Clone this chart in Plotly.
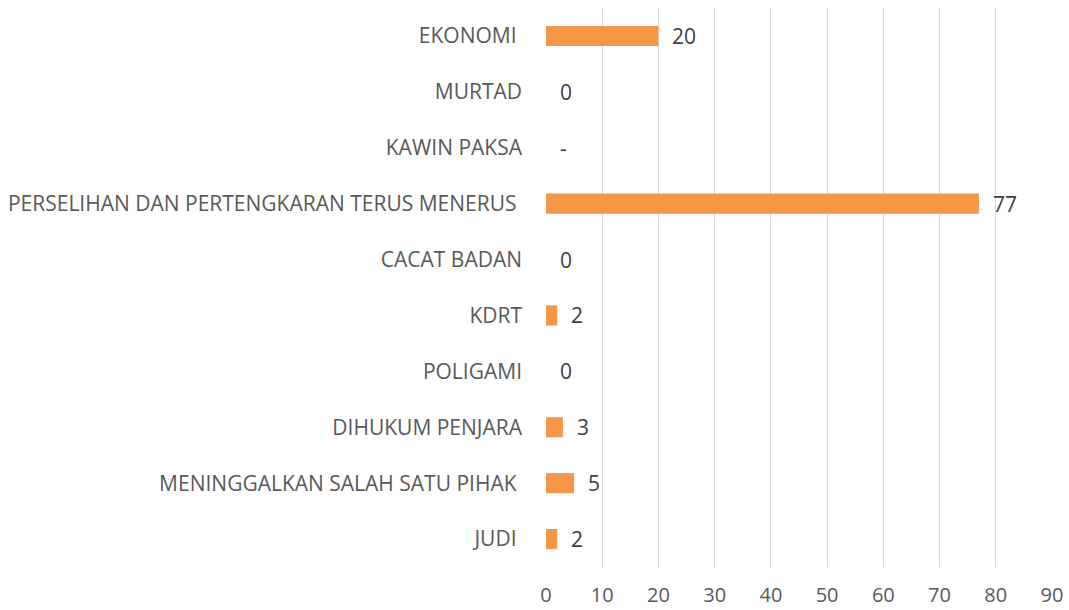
import plotly.graph_objects as go

categories = ["EKONOMI\u00a0", "MURTAD", "KAWIN PAKSA",
              "PERSELIHAN DAN PERTENGKARAN TERUS MENERUS\u00a0", "CACAT BADAN",
              "KDRT", "POLIGAMI", "DIHUKUM PENJARA",
              "MENINGGALKAN SALAH SATU PIHAK\u00a0", "JUDI\u00a0"]
values = [20, 0, 0, 77, 0, 2, 0, 3, 5, 2]
value_labels = ["20", "0", "-", "77", "0", "2", "0", "3", "5", "2"]
x_ticks = [0, 10, 20, 30, 40, 50, 60, 70, 80, 90]

FONT = "Open Sans"
GREY = "#595959"

fig = go.Figure()
fig.add_trace(go.Bar(
    y=categories, x=values, orientation="h",
    marker=dict(color="#F79646", line=dict(width=0)),
    width=0.36, hoverinfo="x+y",
))

for c, v, t in zip(categories, values, value_labels):
    fig.add_annotation(x=v, y=c, text=t, showarrow=False, xanchor="left",
                       xshift=12, font=dict(family=FONT, size=21, color="#404040"))

fig.update_layout(
    width=1069, height=610,
    margin=dict(l=546, r=17, t=8, b=43, autoexpand=False),
    paper_bgcolor="white", plot_bgcolor="white",
    showlegend=False,
    font=dict(family=FONT, size=21, color=GREY),
    xaxis=dict(range=[0, 90], tickvals=x_ticks, showgrid=True,
               gridcolor="#D9D9D9", gridwidth=1, zeroline=False,
               showline=False, ticks="", tickfont=dict(size=20, color=GREY),
               ticklabelstandoff=14, automargin=False),
    yaxis=dict(categoryorder="array", categoryarray=categories,
               autorange="reversed", showgrid=False, zeroline=False,
               showline=False, ticks="", ticklabelstandoff=23,
               automargin=False,
               tickfont=dict(size=21, color=GREY)),
)

fig.write_html("out.html", config={"displayModeBar": False},
               post_script="document.body.style.margin='0';document.body.style.overflow='hidden';")
